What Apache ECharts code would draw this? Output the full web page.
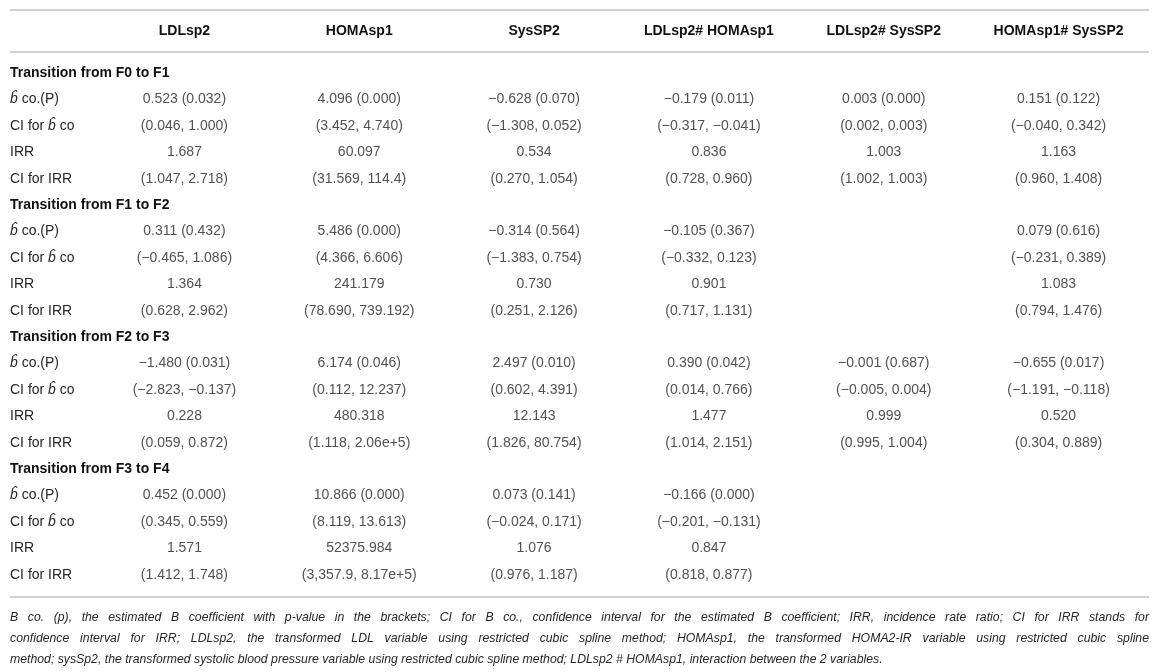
<!DOCTYPE html>
<html><head><meta charset="utf-8">
<script src="https://cdn.jsdelivr.net/npm/echarts@6/dist/echarts.min.js"></script>
<style>html,body{margin:0;padding:0;background:#fff}#c{width:1158px;height:672px}</style>
</head><body><div id="c"></div><script>
// ---------- DATA ----------
const columns = ['LDLsp2', 'HOMAsp1', 'SysSP2', 'LDLsp2# HOMAsp1', 'LDLsp2# SysSP2', 'HOMAsp1# SysSP2'];
const sections = ['Transition from F0 to F1', 'Transition from F1 to F2', 'Transition from F2 to F3', 'Transition from F3 to F4'];
const statLabels = ['b\u0302 co.(P)', 'CI for b\u0302 co', 'IRR', 'CI for IRR'];

const colLDLsp2 = ['', '0.523 (0.032)', '(0.046, 1.000)', '1.687', '(1.047, 2.718)',
  '', '0.311 (0.432)', '(−0.465, 1.086)', '1.364', '(0.628, 2.962)',
  '', '−1.480 (0.031)', '(−2.823, −0.137)', '0.228', '(0.059, 0.872)',
  '', '0.452 (0.000)', '(0.345, 0.559)', '1.571', '(1.412, 1.748)'];
const colHOMAsp1 = ['', '4.096 (0.000)', '(3.452, 4.740)', '60.097', '(31.569, 114.4)',
  '', '5.486 (0.000)', '(4.366, 6.606)', '241.179', '(78.690, 739.192)',
  '', '6.174 (0.046)', '(0.112, 12.237)', '480.318', '(1.118, 2.06e+5)',
  '', '10.866 (0.000)', '(8.119, 13.613)', '52375.984', '(3,357.9, 8.17e+5)'];
const colSysSP2 = ['', '−0.628 (0.070)', '(−1.308, 0.052)', '0.534', '(0.270, 1.054)',
  '', '−0.314 (0.564)', '(−1.383, 0.754)', '0.730', '(0.251, 2.126)',
  '', '2.497 (0.010)', '(0.602, 4.391)', '12.143', '(1.826, 80.754)',
  '', '0.073 (0.141)', '(−0.024, 0.171)', '1.076', '(0.976, 1.187)'];
const colLDLxHOMA = ['', '−0.179 (0.011)', '(−0.317, −0.041)', '0.836', '(0.728, 0.960)',
  '', '−0.105 (0.367)', '(−0.332, 0.123)', '0.901', '(0.717, 1.131)',
  '', '0.390 (0.042)', '(0.014, 0.766)', '1.477', '(1.014, 2.151)',
  '', '−0.166 (0.000)', '(−0.201, −0.131)', '0.847', '(0.818, 0.877)'];
const colLDLxSys = ['', '0.003 (0.000)', '(0.002, 0.003)', '1.003', '(1.002, 1.003)',
  '', '', '', '', '',
  '', '−0.001 (0.687)', '(−0.005, 0.004)', '0.999', '(0.995, 1.004)',
  '', '', '', '', ''];
const colHOMAxSys = ['', '0.151 (0.122)', '(−0.040, 0.342)', '1.163', '(0.960, 1.408)',
  '', '0.079 (0.616)', '(−0.231, 0.389)', '1.083', '(0.794, 1.476)',
  '', '−0.655 (0.017)', '(−1.191, −0.118)', '0.520', '(0.304, 0.889)',
  '', '', '', '', ''];

const footnoteLines = [
  'B co. (p), the estimated B coefficient with p-value in the brackets; CI for B co., confidence interval for the estimated B coefficient; IRR, incidence rate ratio; CI for IRR stands for',
  'confidence interval for IRR; LDLsp2, the transformed LDL variable using restricted cubic spline method; HOMAsp1, the transformed HOMA2-IR variable using restricted cubic spline',
  'method; sysSp2, the transformed systolic blood pressure variable using restricted cubic spline method; LDLsp2 # HOMAsp1, interaction between the 2 variables.'
];

// ---------- BUILD ----------
const colData = [colLDLsp2, colHOMAsp1, colSysSP2, colLDLxHOMA, colLDLxSys, colHOMAxSys];
const rowLabels = [];
sections.forEach(s => { rowLabels.push(s); statLabels.forEach(l => rowLabels.push(l)); });

const cells = [];
colData.forEach((arr, c) => arr.forEach((txt, r) => { if (txt) cells.push({ name: txt, value: [c, r] }); }));

const FONT = "'Liberation Sans', Arial, sans-serif";
const TXT = '#262626';

// layout
const H = 672;
const gridLeft = 97, gridRight = 12, gridTop = 60, rowH = 26.4;
const gridBottom = H - gridTop - rowH * rowLabels.length;
const ruleX0 = 10, ruleX1 = 1149;
const rules = [10, 52, 597];

function rowFormatter(v) {
  if (v.indexOf('Transition') === 0) return '{s|' + v + '}';
  return v.split('b\u0302').map(p => p ? '{n|' + p + '}' : '').join('{i|b\u0302}');
}

// footnote (condensed italic, justified)
const footFamily = 'Liberation Sans';
const footSize = 13.2, footScale = 0.93;
const ctx = document.createElement('canvas').getContext('2d');
ctx.font = 'italic ' + footSize + "px '" + footFamily + "'";
const graphics = [];
rules.forEach(y => graphics.push({ type: 'line', shape: { x1: ruleX0, y1: y, x2: ruleX1, y2: y }, style: { stroke: '#c2c2c2', lineWidth: 1.6 }, silent: true }));
const footY = [617, 638, 659];
footnoteLines.forEach((line, li) => {
  const words = line.split(' ');
  const widths = words.map(w => ctx.measureText(w).width * footScale);
  const total = widths.reduce((a, b) => a + b, 0);
  const justify = li < footnoteLines.length - 1;
  const gap = justify ? (ruleX1 - ruleX0 - total) / (words.length - 1) : ctx.measureText(' ').width * footScale;
  let x = ruleX0;
  words.forEach((w, i) => {
    graphics.push({ type: 'text', x: x, y: footY[li], scaleX: footScale, silent: true,
      style: { text: w, fontFamily: footFamily, fontSize: footSize, fontStyle: 'italic', fill: TXT, verticalAlign: 'middle', align: 'left' } });
    x += widths[i] + gap;
  });
});

const chart = echarts.init(document.getElementById('c'), null, { renderer: 'canvas' });
chart.setOption({
  animation: false,
  backgroundColor: '#fff',
  grid: { left: gridLeft, right: gridRight, top: gridTop, bottom: gridBottom, containLabel: false },
  xAxis: {
    type: 'category', data: columns, position: 'top', boundaryGap: true,
    axisLine: { show: false }, axisTick: { show: false }, splitLine: { show: false },
    axisLabel: { interval: 0, margin: gridTop - 31, verticalAlign: 'middle', fontFamily: FONT, fontSize: 14, fontWeight: 'bold', color: '#111' }
  },
  yAxis: {
    type: 'category', data: rowLabels, inverse: true, boundaryGap: true,
    axisLine: { show: false }, axisTick: { show: false }, splitLine: { show: false },
    axisLabel: {
      interval: 0, align: 'left', margin: gridLeft - 10, formatter: rowFormatter,
      rich: {
        s: { fontFamily: FONT, fontSize: 14, fontWeight: 'bold', color: '#111' },
        n: { fontFamily: FONT, fontSize: 14, color: TXT },
        i: { fontFamily: FONT, fontSize: 14, fontStyle: 'italic', color: TXT }
      }
    }
  },
  series: [{
    type: 'scatter', data: cells, symbolSize: 1, itemStyle: { color: 'rgba(0,0,0,0)' },
    label: { show: true, position: 'inside', formatter: '{b}', fontFamily: FONT, fontSize: 14, color: TXT },
    emphasis: { disabled: true }
  }],
  graphic: graphics
});
</script></body></html>
